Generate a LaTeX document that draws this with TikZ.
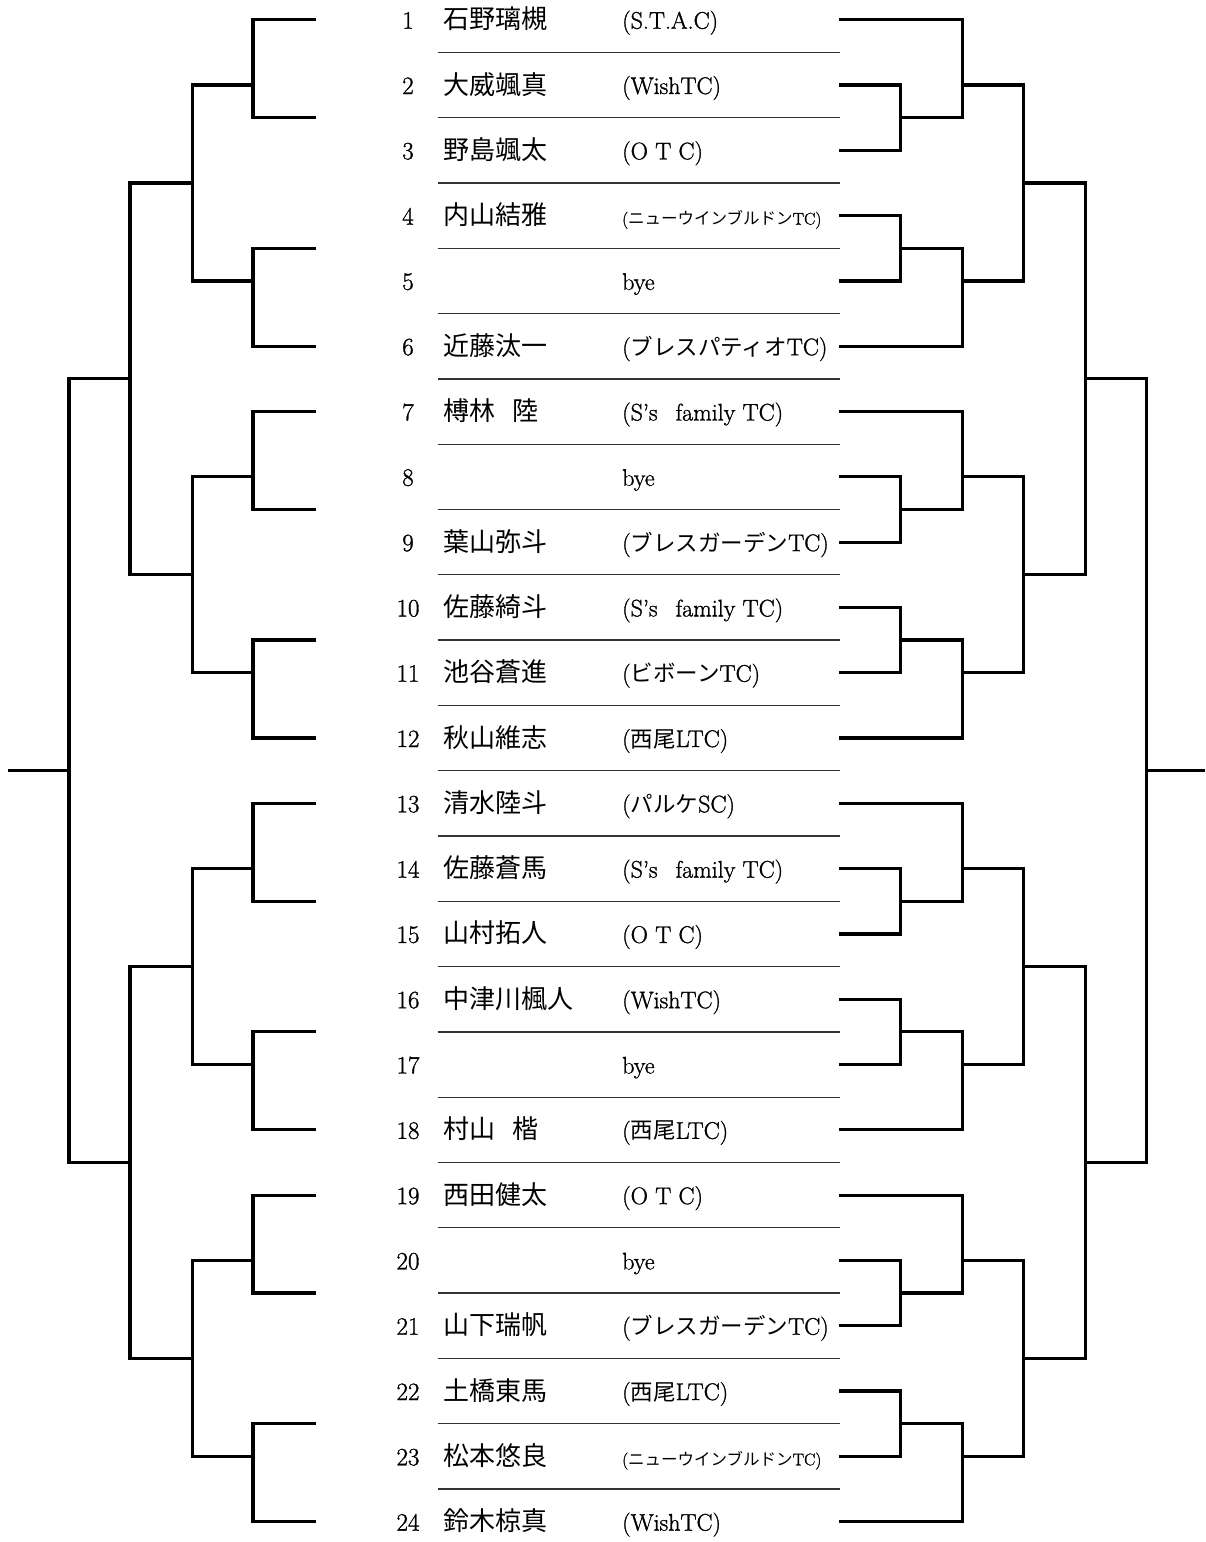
\documentclass[tikz,border=0pt]{standalone}
\usepackage{fontspec}
\setmainfont{Latin Modern Roman}[FakeBold=1.2]
\newfontfamily\jpf{Noto Sans CJK JP}
\newcommand{\ry}[1]{19.7+(#1-1)*65.3}
\newcommand{\J}[1]{{\fontsize{22.5}{22.5}\selectfont\jpf #1}}
\newcommand{\SJ}{{\fontsize{17}{17}\selectfont({\fontsize{16.5}{16.5}\selectfont\jpf ニューウインブルドン}TC)}}
\newcommand{\player}[3]{%
  \node[numtxt] (num-#1) at (408,{\ry{#1}+9}) {#1};
  \node[nametxt] (name-#1) at (443,{\ry{#1}+9}) {#2};
  \node[clubtxt] (club-#1) at (622,{\ry{#1}+9}) {#3};
}
\begin{document}
\begin{tikzpicture}[x=1pt,y=-1pt,
  br/.style={line width=3.2pt, line join=miter},
  sepline/.style={line width=1.3pt, black!80},
  numtxt/.style={anchor=base, inner sep=0pt, font=\fontsize{25}{25}\selectfont},
  nametxt/.style={anchor=base west, inner sep=0pt, font=\fontsize{26}{26}\selectfont\jpf},
  clubtxt/.style={anchor=base west, inner sep=0pt, font=\fontsize{24}{24}\selectfont}]
\useasboundingbox (0,0) rectangle (1205,1542);
\fill[white] (0,0) rectangle (1205,1542);

% separators
\foreach \k in {1,...,23} \draw[sepline] (437.7,{\ry{\k+0.5}}) -- (840,{\ry{\k+0.5}});

% players
\player{1}{石野璃槻}{(S.T.A.C)}
\player{2}{大威颯真}{(WishTC)}
\player{3}{野島颯太}{(O T C)}
\player{4}{内山結雅}{\SJ}
\player{5}{}{bye}
\player{6}{近藤汰一}{(\J{ブレスパティオ}TC)}
\player{7}{榑林\hspace{17.5pt}陸}{(S's\hspace{18pt}family TC)}
\player{8}{}{bye}
\player{9}{葉山弥斗}{(\J{ブレスガーデン}TC)}
\player{10}{佐藤綺斗}{(S's\hspace{18pt}family TC)}
\player{11}{池谷蒼進}{(\J{ビボーン}TC)}
\player{12}{秋山維志}{(\J{西尾}LTC)}
\player{13}{清水陸斗}{(\J{パルケ}SC)}
\player{14}{佐藤蒼馬}{(S's\hspace{18pt}family TC)}
\player{15}{山村拓人}{(O T C)}
\player{16}{中津川楓人}{(WishTC)}
\player{17}{}{bye}
\player{18}{村山\hspace{17.5pt}楷}{(\J{西尾}LTC)}
\player{19}{西田健太}{(O T C)}
\player{20}{}{bye}
\player{21}{山下瑞帆}{(\J{ブレスガーデン}TC)}
\player{22}{土橋東馬}{(\J{西尾}LTC)}
\player{23}{松本悠良}{\SJ}
\player{24}{鈴木椋真}{(WishTC)}

% left bracket, first level
\foreach \g in {0,...,7}{
  \pgfmathtruncatemacro\b{3*\g+1}
  \pgfmathsetmacro\t{mod(\g,2)==1 ? \b+0.5 : \b}
  \pgfmathsetmacro\u{mod(\g,2)==1 ? \b+2 : \b+1.5}
  \coordinate (LA\g-t) at (316,{\ry{\t}});
  \coordinate (LA\g-b) at (316,{\ry{\u}});
  \coordinate (LA\g) at (253,{\ry{\b+1}});
  \draw[br] (LA\g-t) -| (LA\g) |- (LA\g-b);
}
\foreach \p in {0,...,3}{
  \pgfmathtruncatemacro\ga{2*\p}
  \pgfmathtruncatemacro\gb{2*\p+1}
  \coordinate (LB\p) at (192.3,{\ry{6*\p+3.5}});
  \draw[br] (LA\ga) -| (LB\p) |- (LA\gb);
}
\foreach \q in {0,1}{
  \pgfmathtruncatemacro\pa{2*\q}
  \pgfmathtruncatemacro\pb{2*\q+1}
  \coordinate (LC\q) at (130,{\ry{12*\q+6.5}});
  \draw[br] (LB\pa) -| (LC\q) |- (LB\pb);
}
\coordinate (LD) at (69,{\ry{12.5}});
\coordinate (Lend) at (8,{\ry{12.5}});
\draw[br] (LC0) -| (LD) |- (LC1);
\draw[br] (LD) -- (Lend);

% right bracket
\foreach \k in {1,...,24} \coordinate (R-\k) at (839,{\ry{\k}});
\foreach \g in {0,...,7}{
  \pgfmathtruncatemacro\b{3*\g+1}
  \pgfmathtruncatemacro\bb{3*\g+2}
  \pgfmathtruncatemacro\bc{3*\g+3}
  \coordinate (RA\g) at (962.7,{\ry{\bb}});
  \ifodd\g\relax
    \coordinate (RP\g) at (900.7,{\ry{\b+0.5}});
    \draw[br] (R-\b) -| (RP\g) |- (R-\bb);
    \draw[br] (RP\g) -| (RA\g) |- (R-\bc);
  \else
    \coordinate (RP\g) at (900.7,{\ry{\bb+0.5}});
    \draw[br] (R-\bb) -| (RP\g) |- (R-\bc);
    \draw[br] (R-\b) -| (RA\g) |- (RP\g);
  \fi
}
\foreach \p in {0,...,3}{
  \pgfmathtruncatemacro\ga{2*\p}
  \pgfmathtruncatemacro\gb{2*\p+1}
  \coordinate (RB\p) at (1023.3,{\ry{6*\p+3.5}});
  \draw[br] (RA\ga) -| (RB\p) |- (RA\gb);
}
\foreach \q in {0,1}{
  \pgfmathtruncatemacro\pa{2*\q}
  \pgfmathtruncatemacro\pb{2*\q+1}
  \coordinate (RC\q) at (1085.7,{\ry{12*\q+6.5}});
  \draw[br] (RB\pa) -| (RC\q) |- (RB\pb);
}
\coordinate (RD) at (1146.7,{\ry{12.5}});
\coordinate (Rend) at (1205,{\ry{12.5}});
\draw[br] (RC0) -| (RD) |- (RC1);
\draw[br] (RD) -- (Rend);
\end{tikzpicture}
\end{document}
